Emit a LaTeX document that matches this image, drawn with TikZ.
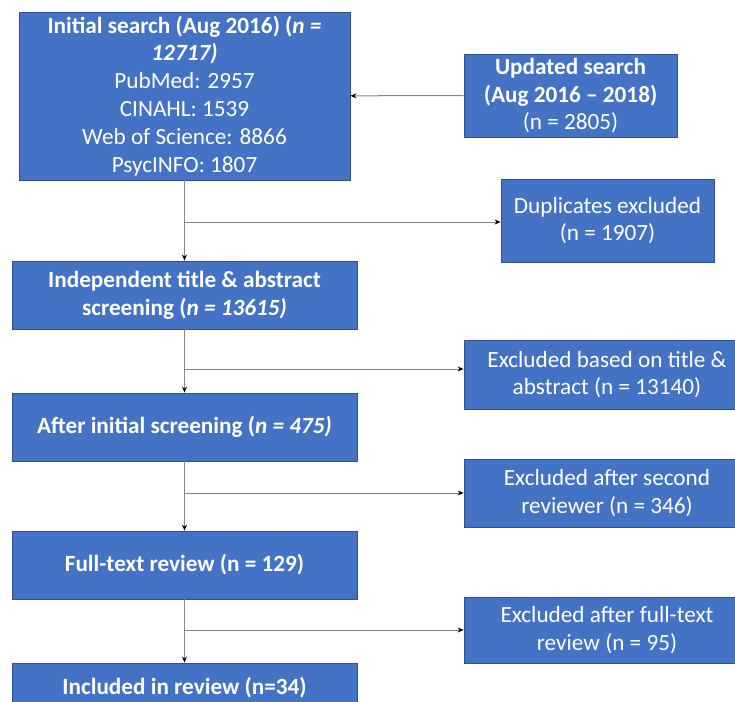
\documentclass[tikz,border=0pt]{standalone}
\usepackage{fontspec}
\setmainfont{Carlito}
\usetikzlibrary{
  arrows.meta,
  positioning,
  calc
}
\definecolor{boxblue}{RGB}{68,114,196}
\definecolor{boxedge}{RGB}{47,82,143}
\definecolor{linegray}{RGB}{135,135,135}

\begin{document}
\begin{tikzpicture}[x=1bp, y=-1bp]
\useasboundingbox (0,0) rectangle (735,702);
\clip (0,0) rectangle (735,702);
% -------------------------
% Nodes
% -------------------------
\begin{scope}[
  every node/.style={draw=boxedge, line width=0.8bp, fill=boxblue, text=white,
    align=center, inner sep=0pt, font=\fontsize{23.3}{28}\selectfont}
]

% Main flow
\node[minimum width=331bp, minimum height=168bp, font=\fontsize{23.3}{28}\selectfont\bfseries]
  (init) at (184.5, 96) {Initial search (Aug 2016) (\textit{n =}\\\textit{12717)}\\
  \mdseries PubMed: 2957\\\mdseries CINAHL: 1539\\\mdseries Web of Science: 8866\\\mdseries PsycINFO: 1807};
\node[minimum width=345bp, minimum height=68bp, font=\fontsize{23.3}{28}\selectfont\bfseries]
  (indep) at (184.5, 295) {Independent title \& abstract\\screening (\textit{n = 13615)}};
\node[minimum width=345bp, minimum height=68bp, font=\fontsize{23.3}{28}\selectfont\bfseries]
  (after) at (184.5, 427) {After initial screening (\textit{n = 475)}};
\node[minimum width=345bp, minimum height=68bp, font=\fontsize{23.3}{28}\selectfont\bfseries]
  (full)  at (184.5, 565) {Full-text review (n = 129)};
\node[minimum width=345bp, minimum height=68bp, text height=15bp, text depth=21bp,
  font=\fontsize{23.3}{28}\selectfont\bfseries]
  (incl)  at (184.5, 697) {Included in review (n=34)};

% Side boxes
\node[minimum width=213bp, minimum height=83bp]
  (upd) at (570.5, 95.5) {\textbf{Updated search}\\\textbf{(Aug 2016 -- 2018)}\\(n = 2805)};
\node[minimum width=213bp, minimum height=83bp]
  (dup) at (607.5, 220.5) {Duplicates excluded\\(n = 1907)};
\node[minimum width=286bp, minimum height=69bp]
  (extitle)  at (607, 374.5) {Excluded based on title \&\\abstract (n = 13140)};
\node[minimum width=286bp, minimum height=68bp]
  (exsecond) at (607, 493) {Excluded after second\\reviewer (n = 346)};
\node[minimum width=286bp, minimum height=66bp]
  (exfull)   at (607, 630) {Excluded after full-text\\review (n = 95)};

\end{scope}

% Branch points
\coordinate (b1) at (184.5, 222);
\coordinate (b2) at (184.5, 369);
\coordinate (b3) at (184.5, 493);
\coordinate (b4) at (184.5, 630);

% -------------------------
% Edges
% -------------------------
\begin{scope}[>={Stealth[black, length=6bp, width=5bp]}, draw=linegray, line width=1bp]
\path [->] (upd)   edge (init);

\path [->] (init)  edge (indep);
\path [->] (indep) edge (after);
\path [->] (after) edge (full);
\path [->] (full)  edge (incl);

\path [->] (b1) edge (b1 -| dup.west);
\path [->] (b2) edge (b2 -| extitle.west);
\path [->] (b3) edge (b3 -| exsecond.west);
\path [->] (b4) edge (b4 -| exfull.west);
\end{scope}

\end{tikzpicture}
\end{document}
